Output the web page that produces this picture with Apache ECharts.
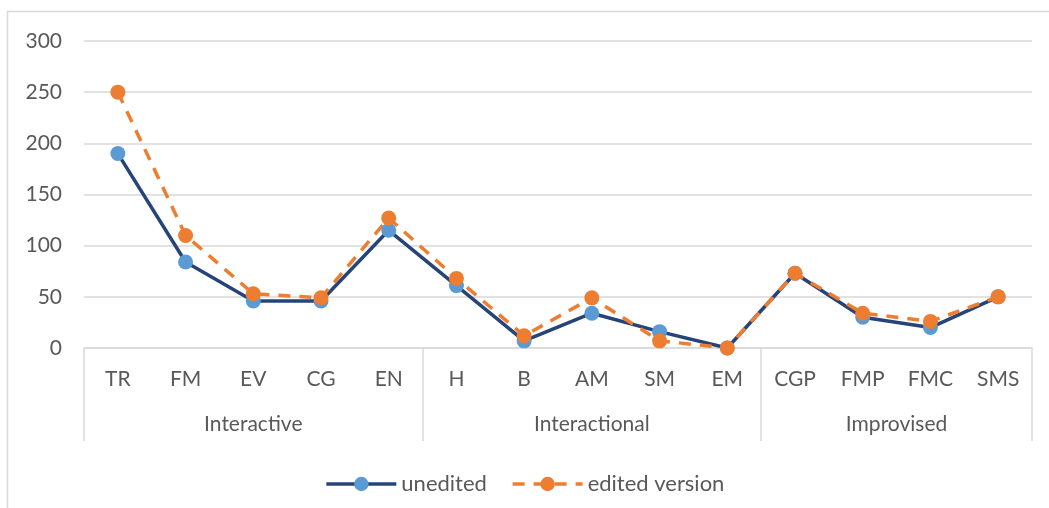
<!DOCTYPE html>
<html>
<head>
<meta charset="utf-8">
<script src="https://cdn.jsdelivr.net/npm/echarts@6/dist/echarts.min.js"></script>
<style>html,body{margin:0;padding:0;background:#fff;}#c{width:1049px;height:508px;}</style>
</head>
<body>
<div id="c"></div>
<script>
const categories = ['TR','FM','EV','CG','EN','H','B','AM','SM','EM','CGP','FMP','FMC','SMS'];
const groupNames = ['Interactive','Interactional','Improvised'];
const groupSizes = [5,5,4];
const unedited = [190,84,46,46,115,61,7,34,16,0,73,30,20,50];
const edited = [250,110,53,49,127,68,12,49,7,0,73,34,26,50];
const yTicks = [0,50,100,150,200,250,300];

const bounds = [0];
groupSizes.forEach(s => bounds.push(bounds[bounds.length-1] + s));
const centers = groupSizes.map((s,i) => bounds[i] + s/2);

const font = 'Lato, "Open Sans", sans-serif';
const fs = 21;
const chart = echarts.init(document.getElementById('c'));
chart.setOption({
  animation: false,
  backgroundColor: '#fff',
  graphic: [{
    type: 'rect', silent: true,
    shape: {x: 7.5, y: 11.5, width: 1100, height: 600},
    style: {fill: 'none', stroke: '#d9d9d9', lineWidth: 1.5}
  }],
  grid: {left: 84, right: 17, top: 41, bottom: 160},
  legend: {
    bottom: 8, left: 'center',
    itemWidth: 70, itemHeight: 18, itemGap: 24,
    lineStyle: {width: 3.5},
    textStyle: {fontFamily: font, fontSize: 22, color: '#595959'},
    data: ['unedited', 'edited version']
  },
  xAxis: [{
    type: 'category', data: categories, boundaryGap: true,
    axisLine: {lineStyle: {color: '#d9d9d9', width: 1.5}},
    axisTick: {show: false},
    axisLabel: {fontFamily: font, fontSize: fs, color: '#595959', margin: 21, interval: 0}
  }, {
    type: 'value', position: 'bottom', min: 0, max: categories.length,
    axisLine: {show: false},
    splitLine: {show: false},
    axisTick: {show: true, customValues: bounds, length: 93, lineStyle: {color: '#d9d9d9', width: 1.5}},
    axisLabel: {
      customValues: centers, margin: 66,
      fontFamily: font, fontSize: fs, color: '#595959',
      formatter: v => { const i = centers.indexOf(v); return i >= 0 ? groupNames[i] : ''; }
    }
  }],
  yAxis: {
    type: 'value', min: yTicks[0], max: yTicks[yTicks.length-1], interval: 50,
    axisLine: {show: false}, axisTick: {show: false},
    splitLine: {lineStyle: {color: '#d9d9d9', width: 1.5}},
    axisLabel: {fontFamily: font, fontSize: fs, color: '#595959', margin: 22}
  },
  series: [{
    name: 'unedited', type: 'line', data: unedited, xAxisIndex: 0,
    symbol: 'circle', symbolSize: 15,
    lineStyle: {color: '#264478', width: 3.5},
    itemStyle: {color: '#5B9BD5'}
  }, {
    name: 'edited version', type: 'line', data: edited, xAxisIndex: 0,
    symbol: 'circle', symbolSize: 15,
    lineStyle: {color: '#ED7D31', width: 3.5, type: [12, 9]},
    itemStyle: {color: '#ED7D31'}
  }]
});
</script>
</body>
</html>
